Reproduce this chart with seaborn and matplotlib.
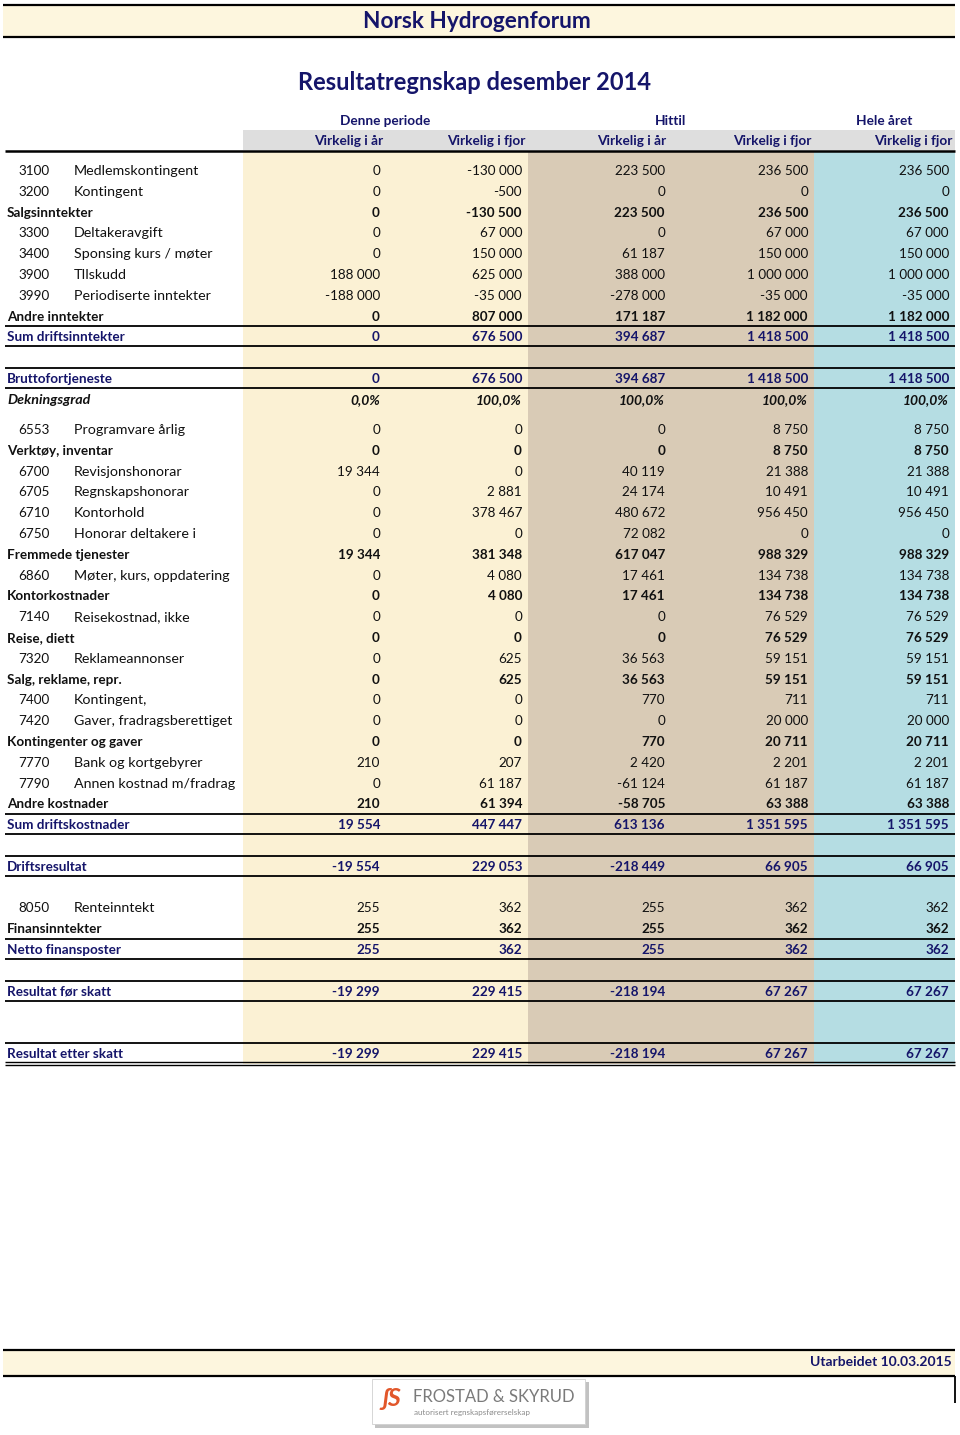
import matplotlib
matplotlib.use("Agg")
import matplotlib.pyplot as plt
from matplotlib.patches import Rectangle
import seaborn as sns

sns.set_theme(style="white")
plt.rcParams['font.family'] = ['Lato', 'DejaVu Sans']

# ---------------- data ----------------
title_top = "Norsk Hydrogenforum"
title_main = "Resultatregnskap desember 2014"
group_headers = ["Denne periode", "Hittil", "Hele året"]
col_headers = ["Virkelig i år", "Virkelig i fjor", "Virkelig i år", "Virkelig i fjor", "Virkelig i fjor"]
footer_text = "Utarbeidet 10.03.2015"

row_kinds = ["item", "item", "sub", "item", "item", "item", "item", "sub", "sum",
             "blank", "sum", "pct", "half",
             "item", "sub", "item", "item", "item", "item", "sub", "item", "sub",
             "item", "sub", "item", "sub", "item", "item", "sub", "item", "item", "sub", "sum",
             "blank", "sum", "blank", "item", "sub", "sum", "blank", "sum", "blank", "blank", "sumdbl"]
row_codes = ["3100", "3200", "", "3300", "3400", "3900", "3990", "", "",
             "", "", "", "",
             "6553", "", "6700", "6705", "6710", "6750", "", "6860", "",
             "7140", "", "7320", "", "7400", "7420", "", "7770", "7790", "", "",
             "", "", "", "8050", "", "", "", "", "", "", ""]
row_labels = ["Medlemskontingent", "Kontingent", "Salgsinntekter", "Deltakeravgift",
              "Sponsing kurs / møter", "TIlskudd", "Periodiserte inntekter", "Andre inntekter",
              "Sum driftsinntekter",
              "", "Bruttofortjeneste", "Dekningsgrad", "",
              "Programvare årlig", "Verktøy, inventar", "Revisjonshonorar", "Regnskapshonorar",
              "Kontorhold", "Honorar deltakere i", "Fremmede tjenester",
              "Møter, kurs, oppdatering", "Kontorkostnader", "Reisekostnad, ikke", "Reise, diett",
              "Reklameannonser", "Salg, reklame, repr.", "Kontingent,", "Gaver, fradragsberettiget",
              "Kontingenter og gaver", "Bank og kortgebyrer", "Annen kostnad m/fradrag",
              "Andre kostnader", "Sum driftskostnader",
              "", "Driftsresultat", "", "Renteinntekt", "Finansinntekter", "Netto finansposter",
              "", "Resultat før skatt", "", "", "Resultat etter skatt"]

denne_ar = [0, 0, 0, 0, 0, 188000, -188000, 0, 0,
            None, 0, 0.0, None,
            0, 0, 19344, 0, 0, 0, 19344, 0, 0,
            0, 0, 0, 0, 0, 0, 0, 210, 0, 210, 19554,
            None, -19554, None, 255, 255, 255, None, -19299, None, None, -19299]
denne_fjor = [-130000, -500, -130500, 67000, 150000, 625000, -35000, 807000, 676500,
              None, 676500, 100.0, None,
              0, 0, 0, 2881, 378467, 0, 381348, 4080, 4080,
              0, 0, 625, 625, 0, 0, 0, 207, 61187, 61394, 447447,
              None, 229053, None, 362, 362, 362, None, 229415, None, None, 229415]
hittil_ar = [223500, 0, 223500, 0, 61187, 388000, -278000, 171187, 394687,
             None, 394687, 100.0, None,
             0, 0, 40119, 24174, 480672, 72082, 617047, 17461, 17461,
             0, 0, 36563, 36563, 770, 0, 770, 2420, -61124, -58705, 613136,
             None, -218449, None, 255, 255, 255, None, -218194, None, None, -218194]
hittil_fjor = [236500, 0, 236500, 67000, 150000, 1000000, -35000, 1182000, 1418500,
               None, 1418500, 100.0, None,
               8750, 8750, 21388, 10491, 956450, 0, 988329, 134738, 134738,
               76529, 76529, 59151, 59151, 711, 20000, 20711, 2201, 61187, 63388, 1351595,
               None, 66905, None, 362, 362, 362, None, 67267, None, None, 67267]
hele_fjor = [236500, 0, 236500, 67000, 150000, 1000000, -35000, 1182000, 1418500,
             None, 1418500, 100.0, None,
             8750, 8750, 21388, 10491, 956450, 0, 988329, 134738, 134738,
             76529, 76529, 59151, 59151, 711, 20000, 20711, 2201, 61187, 63388, 1351595,
             None, 66905, None, 362, 362, 362, None, 67267, None, None, 67267]
columns = [denne_ar, denne_fjor, hittil_ar, hittil_fjor, hele_fjor]

# ---------------- style ----------------
NAVY = "#15156a"
YELLOW = "#fbf1d4"
TAN = "#d9cbb6"
BLUE = "#b5dde3"
GREY = "#dedede"
BAND = "#fdf6de"
INK = "#111111"

W, H = 960, 1435
fig = plt.figure(figsize=(W / 100, H / 100), dpi=100)
ax = fig.add_axes([0, 0, 1, 1])
ax.set_xlim(0, W)
ax.set_ylim(H, 0)
ax.axis("off")

band_x = [(243, 528, YELLOW), (528, 814, TAN), (814, 955, BLUE)]
val_right = [380, 522, 665, 808, 949]
hdr_right = [383, 525, 666, 811, 952]
group_cx = [385, 671, 884]
LEFT, RIGHT = 5, 955

# title band
ax.add_patch(Rectangle((3, 5), RIGHT - 3, 32, facecolor=BAND, edgecolor="none"))
ax.hlines([5, 37], 3, RIGHT, color="black", lw=1.6)
ax.text(477, 22, title_top, ha="center", va="center", fontsize=16.3, fontweight="bold", color=NAVY)
ax.text(475, 82, title_main, ha="center", va="center", fontsize=17, fontweight="bold", color=NAVY)

# headers
for cx, g in zip(group_cx, group_headers):
    ax.text(cx, 121, g, ha="center", va="center", fontsize=9.8, fontweight="bold", color=NAVY)
ax.add_patch(Rectangle((243, 130), RIGHT - 243, 20, facecolor=GREY, edgecolor="none"))
for xr, h in zip(hdr_right, col_headers):
    ax.text(xr, 141, h, ha="right", va="center", fontsize=9.8, fontweight="bold", color=NAVY)

# row positions
RH = 20.8
ys = []
y = 171.0
for k in row_kinds:
    ys.append(y)
    y += 9.4 if k == "half" else RH
table_bottom = ys[-1] + 10.5

for x0, x1, c in band_x:
    ax.add_patch(Rectangle((x0, 151.5), x1 - x0, table_bottom - 151.5, facecolor=c, edgecolor="none"))
ax.hlines(151, LEFT, RIGHT, color="black", lw=1.8)


def fmt(v, pct=False):
    if pct:
        return f"{v:.1f}".replace(".", ",") + "%"
    s = f"{abs(int(v)):,}".replace(",", " ")
    return ("-" if v < 0 else "") + s


FS = 9.7
for i, k in enumerate(row_kinds):
    yy = ys[i]
    if k in ("blank", "half"):
        continue
    ly = yy - 1.0  # line positions relative to the row centre
    if k == "item":
        ax.text(18, yy, row_codes[i], ha="left", va="center", fontsize=FS, color=INK)
        ax.text(74, yy, row_labels[i], ha="left", va="center", fontsize=10.3, color=INK)
        style = dict(fontsize=FS, color=INK)
    elif k == "sub":
        ax.text(7, yy, row_labels[i], ha="left", va="center", fontsize=FS, fontweight="bold", color=INK)
        style = dict(fontsize=FS, fontweight="bold", color=INK)
    elif k == "pct":
        ax.text(7, yy, row_labels[i], ha="left", va="center", fontsize=10.3, fontweight="bold",
                fontstyle="italic", color=INK)
        style = dict(fontsize=10.0, fontweight="bold", fontstyle="italic", color=INK)
    else:
        ax.text(7, yy, row_labels[i], ha="left", va="center", fontsize=FS, fontweight="bold", color=NAVY)
        style = dict(fontsize=FS, fontweight="bold", color=NAVY)
        ax.hlines(ly - 10, LEFT, RIGHT, color="black", lw=1.3)
        if k == "sumdbl":
            ax.hlines([ly + 9.5, ly + 12], LEFT, RIGHT, color="black", lw=1.0)
        else:
            ax.hlines(ly + 10, LEFT, RIGHT, color="black", lw=1.3)
    for xr, col in zip(val_right, columns):
        v = col[i]
        if v is None:
            continue
        ax.text(xr, yy, fmt(v, pct=(k == "pct")), ha="right", va="center", **style)

# footer band
ax.add_patch(Rectangle((3, 1350), RIGHT - 3, 26, facecolor=BAND, edgecolor="none"))
ax.hlines([1350, 1376], 3, RIGHT, color="black", lw=1.6)
ax.vlines(RIGHT, 1376, 1403, color="black", lw=1.3)
ax.text(952, 1362, footer_text, ha="right", va="center", fontsize=10, fontweight="bold", color=NAVY)

# logo
ax.add_patch(Rectangle((375, 1382), 214, 46, facecolor="#9a9a9a", edgecolor="none", alpha=0.6))
ax.add_patch(Rectangle((372, 1379), 213, 45, facecolor="white", edgecolor="#d0d0d0", lw=0.6))
ax.text(392, 1398, "ʃS", ha="center", va="center", fontsize=18, fontweight="bold",
        fontstyle="italic", color="#e2572b")
ax.text(413, 1397, "FROSTAD & SKYRUD", ha="left", va="center", fontsize=12, color="#7a7a7a")
ax.text(414, 1413, "autorisert regnskapsførerselskap", ha="left", va="center", fontsize=5.8, color="#8a8a8a")

fig.savefig("out.png", dpi=100)
